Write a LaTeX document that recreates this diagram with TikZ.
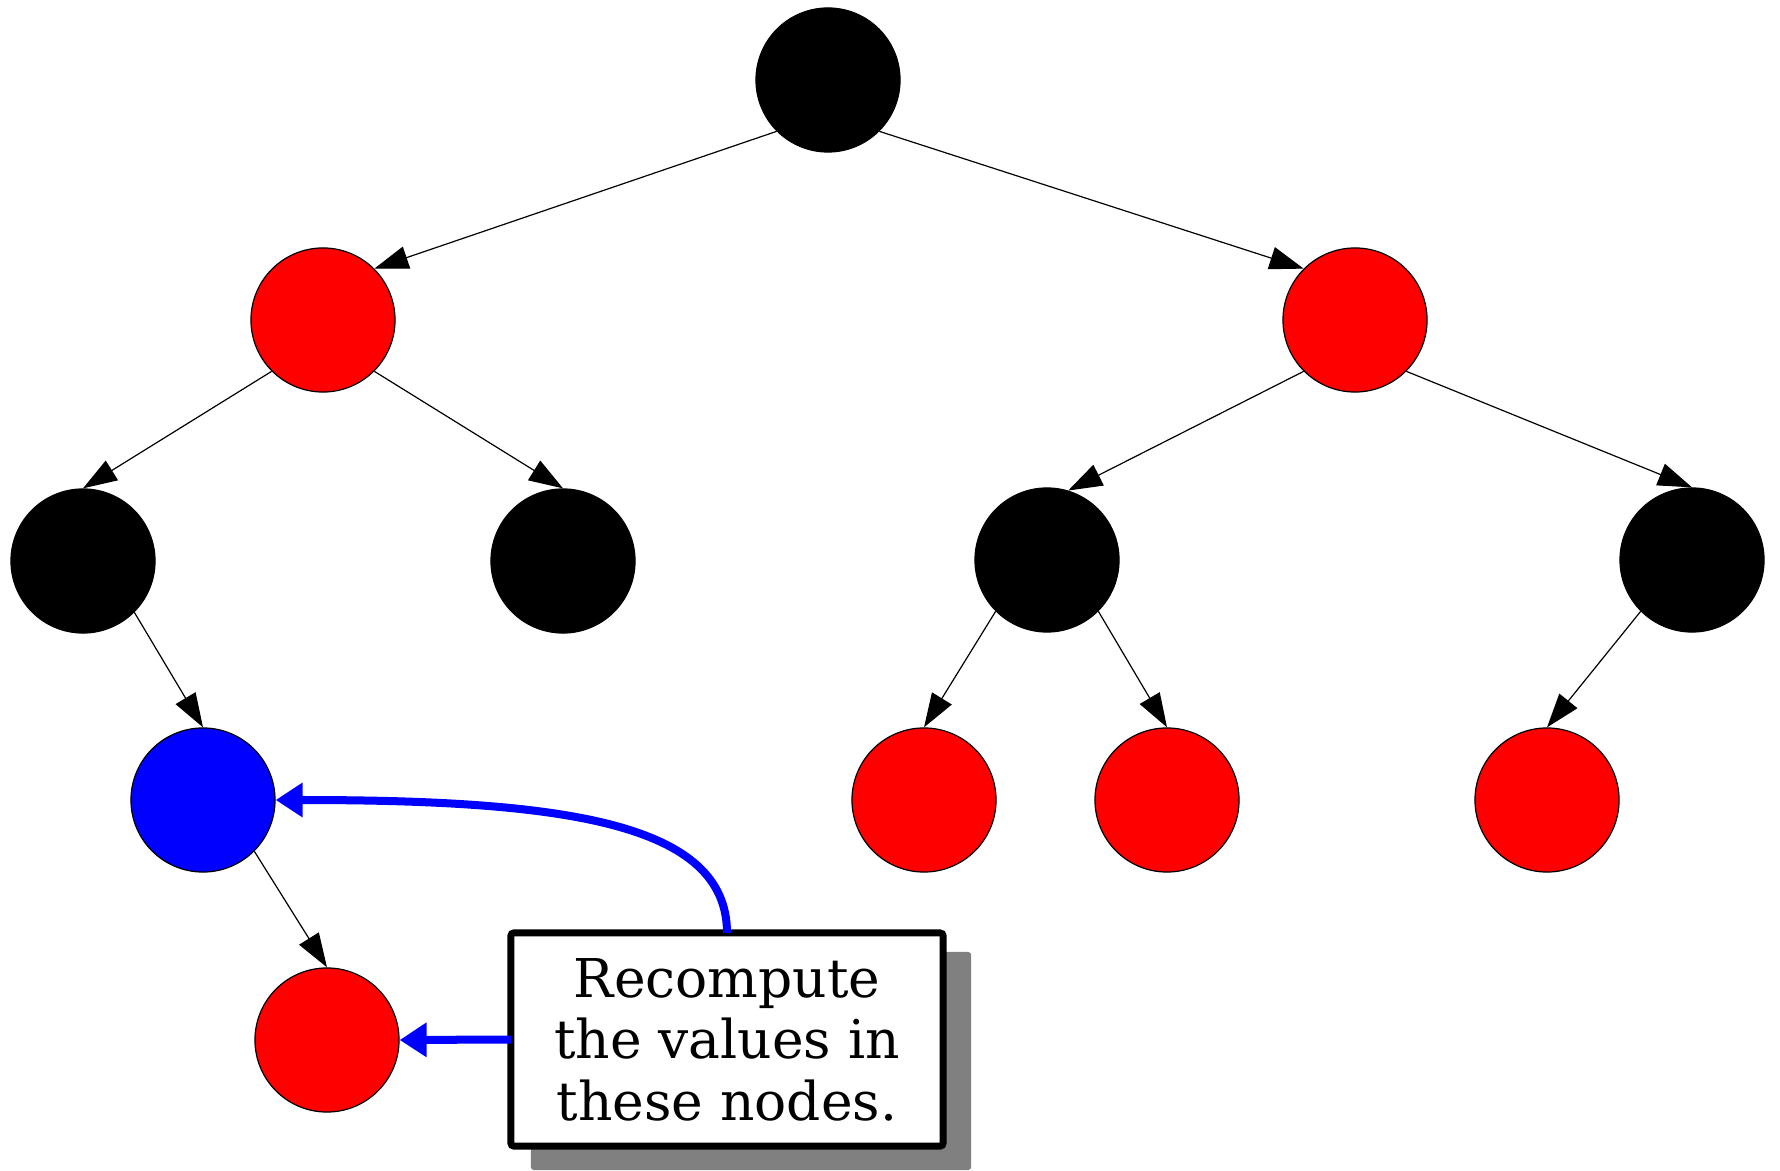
\documentclass[tikz,border=0pt]{standalone}
\usepackage{fontspec}
\setmainfont{DejaVu Serif}
\usetikzlibrary{arrows.meta,calc,backgrounds}
\definecolor{shadowgray}{RGB}{128,128,128}
\begin{document}
\begin{tikzpicture}[x=0.01cm,y=-0.01cm,
  tnode/.style={circle, minimum size=1.44cm, inner sep=0pt, draw=black, line width=0.012cm},
  blk/.style={tnode, fill=black},
  rd/.style={tnode, fill=red},
  bl/.style={tnode, fill=blue},
  treeedge/.style={line width=0.012cm, -{Triangle[length=0.34cm,width=0.23cm]}},
  notearrow/.style={line width=0.08cm, blue, -{Triangle[length=0.27cm,width=0.33cm]}},
  callout/.style={draw=black, fill=white, line width=0.07cm, rounded corners=0.03cm,
    minimum width=4.32cm, minimum height=2.13cm, outer sep=0pt, align=center,
    inner sep=0pt, font=\fontsize{15.2pt}{17.5pt}\selectfont}
]
\useasboundingbox (0,0) rectangle (1780,1171);

% tree nodes
\node[blk] (root) at (828,80) {};
\node[rd]  (L)    at (323,320) {};
\node[rd]  (R)    at (1355,320) {};
\node[blk] (LL)   at (83,561) {};
\node[blk] (LR)   at (563,561) {};
\node[blk] (RL)   at (1047,560) {};
\node[blk] (RR)   at (1692,560) {};
\node[bl]  (B)    at (203,800) {};
\node[rd]  (RLL)  at (924,800) {};
\node[rd]  (RLR)  at (1167,800) {};
\node[rd]  (RRL)  at (1547,800) {};
\node[rd]  (D)    at (327,1040) {};

% tree edges
\draw[treeedge] (root.225) -- (L.45);
\draw[treeedge] (root.-45) -- (R.135);
\draw[treeedge] (L.225) -- (LL.90);
\draw[treeedge] (L.-45) -- (LR.90);
\draw[treeedge] (R.225) -- (RL.73);
\draw[treeedge] (R.-45) -- (RR.90);
\draw[treeedge] (LL.-45) -- (B.90);
\draw[treeedge] (B.-45) -- (D.90);
\draw[treeedge] (RL.225) -- (RLL.90);
\draw[treeedge] (RL.-45) -- (RLR.90);
\draw[treeedge] (RR.225) -- (RRL.90);

% callout
\node[callout] (box) at (727,1039.5) {Recompute\\the values in\\these nodes.};
\begin{scope}[on background layer]
\fill[shadowgray, rounded corners=0.03cm] ($(box.north west)+(20,19)$) rectangle ($(box.south east)+(28,24)$);
\end{scope}

\draw[notearrow] (box.north) .. controls +(0,-110) and +(290,0) .. (B.east);
\draw[notearrow] (box.west) -- (D.east);
\end{tikzpicture}
\end{document}
